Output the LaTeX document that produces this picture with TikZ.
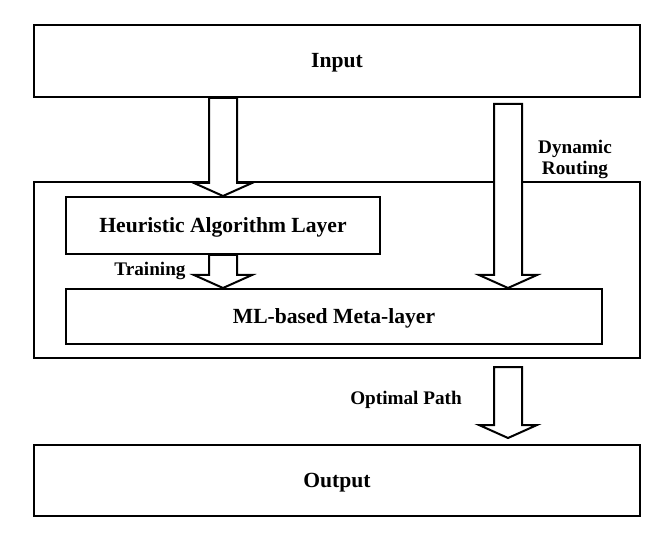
\documentclass[tikz,border=0pt]{standalone}
\usepackage{fontspec}
\setmainfont{Liberation Serif}
\usetikzlibrary{calc}

\tikzset{
  box/.style={draw=black,line width=1pt,fill=white,inner sep=0pt,
    text height=0.66em,text depth=0pt,
    font=\fontsize{10.8}{13}\selectfont\bfseries},
  tag/.style={inner sep=1pt,align=center,font=\fontsize{9.6}{11.5}\selectfont\bfseries},
  hollow/.style={draw=black,line width=1pt,fill=white,line join=miter}
}

% hollow block arrow pointing down from #1 to the tip #2
\newcommand{\blockarrow}[2]{%
  \draw[hollow] let \p1=(#1), \p2=(#2) in
    (\x2-7pt,\y1) -- (\x2-7pt,\y2+6.5pt) -- (\x2-14.5pt,\y2+6.5pt) -- (\x2,\y2)
    -- (\x2+14.5pt,\y2+6.5pt) -- (\x2+7pt,\y2+6.5pt) -- (\x2+7pt,\y1) -- cycle;}

\begin{document}
\begin{tikzpicture}[x=0.5pt,y=-0.5pt]
  \useasboundingbox (0,0) rectangle (656,533);

  \node[box,minimum width=303pt,minimum height=36pt] (input) at (337,61) {Input};
  \node[box,minimum width=303pt,minimum height=88pt] (frame) at (337,270) {};
  \node[box,minimum width=157pt,minimum height=28.5pt] (heur) at (223,225.5) {Heuristic Algorithm Layer};
  \node[box,minimum width=268pt,minimum height=27.5pt] (meta) at (334,316.5) {ML-based Meta-layer};
  \node[box,minimum width=303pt,minimum height=35.5pt] (output) at (337,480.5) {Output};

  \node[tag] (dyn) at (575,159) {Dynamic\\[-1pt]Routing};
  \node[tag] (train) at (150,271) {Training};
  \node[tag] (opt) at (406,400) {Optimal Path};

  \coordinate (dyn top) at (508,104);
  \coordinate (opt top) at (508,367);
  \coordinate (opt tip) at (508,438);

  \blockarrow{heur.north |- input.south}{heur.north}
  \blockarrow{heur.south}{heur.south |- meta.north}
  \blockarrow{dyn top}{dyn top |- meta.north}
  \blockarrow{opt top}{opt tip}
\end{tikzpicture}
\end{document}
